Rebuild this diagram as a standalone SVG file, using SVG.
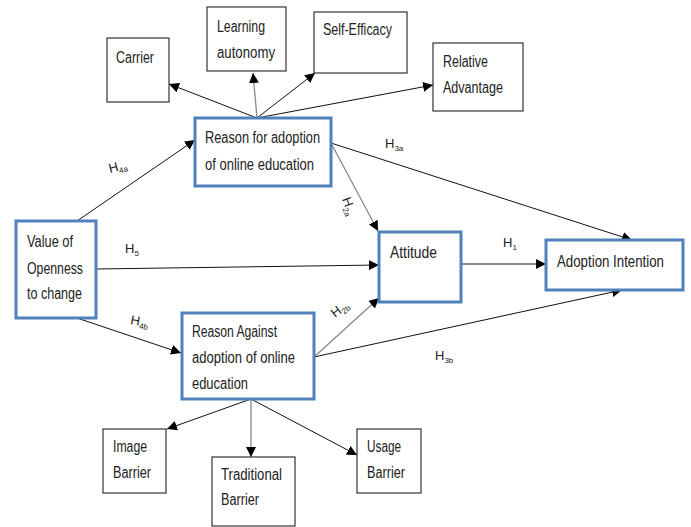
<svg xmlns="http://www.w3.org/2000/svg" width="691" height="527" viewBox="0 0 691 527">
<style>
.t{font-family:"Liberation Sans","DejaVu Sans",sans-serif;font-size:16px;fill:#222}
.h{font-family:"Liberation Sans","DejaVu Sans",sans-serif;font-size:13px;fill:#222}
.s{font-size:8px}
.blue{fill:#fff;stroke:#4f81bd;stroke-width:3}
.plain{fill:#fff;stroke:#333;stroke-width:1.2}
.ln{stroke:#111;stroke-width:1;fill:none;marker-end:url(#a)}
.lg{stroke:#888;stroke-width:1.3;fill:none;marker-end:url(#a)}
</style>
<defs>
<marker id="a" markerUnits="userSpaceOnUse" markerWidth="10" markerHeight="10" viewBox="0 0 10 10" refX="10" refY="5" orient="auto">
<path d="M0,0 L10,5 L0,10 z" fill="#000"/>
</marker>
</defs>
<rect width="691" height="527" fill="#fff"/>
<g id="connectors">
<line class="ln" x1="257" y1="118" x2="169" y2="84"/>
<line class="lg" x1="257" y1="118" x2="253" y2="73"/>
<line class="ln" x1="257" y1="118" x2="315" y2="73"/>
<line class="ln" x1="257" y1="118" x2="433" y2="85"/>
<line class="ln" x1="77" y1="221" x2="195" y2="140"/>
<line class="ln" x1="96" y1="269" x2="379" y2="265"/>
<line class="ln" x1="77" y1="318" x2="181" y2="353"/>
<line class="ln" x1="331" y1="143" x2="632" y2="240"/>
<line class="lg" x1="331" y1="143" x2="378" y2="231"/>
<line class="ln" x1="461" y1="264" x2="546" y2="264"/>
<line class="lg" x1="314" y1="357" x2="379" y2="298"/>
<line class="ln" x1="314" y1="357" x2="622" y2="290"/>
<line class="ln" x1="251" y1="399" x2="167" y2="429"/>
<line class="lg" x1="251" y1="399" x2="251" y2="457"/>
<line class="ln" x1="251" y1="399" x2="357" y2="455"/>
<text class="h" transform="translate(110,173) rotate(-15)">H<tspan class="s" dy="3">4a</tspan></text>
<text class="h" x="125" y="253">H<tspan class="s" dy="3">5</tspan></text>
<text class="h" transform="translate(130,324) rotate(10)">H<tspan class="s" dy="3">4b</tspan></text>
<text class="h" x="385" y="148">H<tspan class="s" dy="3">3a</tspan></text>
<text class="h" transform="translate(342,199) rotate(70)">H<tspan class="s" dy="3">2a</tspan></text>
<text class="h" transform="translate(335,318) rotate(-38)">H<tspan class="s" dy="3">2b</tspan></text>
<text class="h" x="503" y="247">H<tspan class="s" dy="3">1</tspan></text>
<text class="h" x="435" y="360">H<tspan class="s" dy="3">3b</tspan></text>
</g>
<g id="carrier"><rect class="plain" x="107" y="38" width="62" height="64"/><text class="t" x="116" y="63" textLength="38" lengthAdjust="spacingAndGlyphs">Carrier</text></g>
<g id="learning"><rect class="plain" x="207" y="7" width="79" height="64"/><text class="t" x="217" y="32" textLength="48" lengthAdjust="spacingAndGlyphs">Learning</text><text class="t" x="217" y="58" textLength="58" lengthAdjust="spacingAndGlyphs">autonomy</text></g>
<g id="selfefficacy"><rect class="plain" x="314" y="12" width="93" height="61"/><text class="t" x="323" y="35" textLength="69" lengthAdjust="spacingAndGlyphs">Self-Efficacy</text></g>
<g id="relative"><rect class="plain" x="433" y="43" width="90" height="68"/><text class="t" x="443" y="67" textLength="45" lengthAdjust="spacingAndGlyphs">Relative</text><text class="t" x="443" y="93" textLength="60" lengthAdjust="spacingAndGlyphs">Advantage</text></g>
<g id="reasonfor"><rect class="blue" x="195" y="118" width="136" height="68"/><text class="t" x="205" y="143" textLength="115" lengthAdjust="spacingAndGlyphs">Reason for adoption</text><text class="t" x="205" y="170" textLength="109" lengthAdjust="spacingAndGlyphs">of online education</text></g>
<g id="value"><rect class="blue" x="16" y="221" width="80" height="97"/><text class="t" x="27" y="247" textLength="46" lengthAdjust="spacingAndGlyphs">Value of</text><text class="t" x="27" y="274" textLength="56" lengthAdjust="spacingAndGlyphs">Openness</text><text class="t" x="27" y="299" textLength="55" lengthAdjust="spacingAndGlyphs">to change</text></g>
<g id="attitude"><rect class="blue" x="379" y="232" width="82" height="70"/><text class="t" x="390" y="258" textLength="47" lengthAdjust="spacingAndGlyphs">Attitude</text></g>
<g id="intention"><rect class="blue" x="546" y="240" width="137" height="50"/><text class="t" x="557" y="267" textLength="107" lengthAdjust="spacingAndGlyphs">Adoption Intention</text></g>
<g id="reasonagainst"><rect class="blue" x="182" y="313" width="132" height="86"/><text class="t" x="192" y="337" textLength="85" lengthAdjust="spacingAndGlyphs">Reason Against</text><text class="t" x="192" y="363" textLength="103" lengthAdjust="spacingAndGlyphs">adoption of online</text><text class="t" x="192" y="389" textLength="56" lengthAdjust="spacingAndGlyphs">education</text></g>
<g id="image"><rect class="plain" x="103" y="429" width="63" height="64"/><text class="t" x="113" y="452" textLength="34" lengthAdjust="spacingAndGlyphs">Image</text><text class="t" x="113" y="478" textLength="38" lengthAdjust="spacingAndGlyphs">Barrier</text></g>
<g id="traditional"><rect class="plain" x="212" y="457" width="83" height="69"/><text class="t" x="221" y="480" textLength="61" lengthAdjust="spacingAndGlyphs">Traditional</text><text class="t" x="221" y="505" textLength="38" lengthAdjust="spacingAndGlyphs">Barrier</text></g>
<g id="usage"><rect class="plain" x="357" y="429" width="64" height="64"/><text class="t" x="367" y="452" textLength="34" lengthAdjust="spacingAndGlyphs">Usage</text><text class="t" x="367" y="478" textLength="38" lengthAdjust="spacingAndGlyphs">Barrier</text></g>
</svg>
